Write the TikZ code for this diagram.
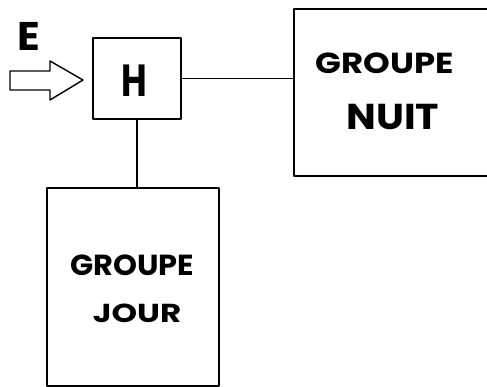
\documentclass[tikz,border=0pt]{standalone}
\usepackage{fontspec}
\newfontfamily\handfont{Poppins}[UprightFont=* Bold]
% hand-lettered look: wide, heavy capitals
\newcommand\handtext[3]{\scalebox{#2}[1]{\fontsize{#1}{#1}\selectfont #3}}
\begin{document}
\begin{tikzpicture}[x=1pt,y=-1pt,
  line width=1.5pt, line join=round,
  box/.style={draw=black, line width=1.7pt, inner sep=0pt},
  lettering/.style={font=\handfont, inner sep=0pt, text=black}]
\useasboundingbox (0,0) rectangle (487,387);
\clip (0,0) rectangle (487,387);

% blocks
\node[box, minimum width=88pt, minimum height=81pt] (h) at (137,78.5) {};
\node[lettering] (hl) at (134,81) {\handtext{45}{0.78}{H}};

\node[box, minimum width=200pt, minimum height=167pt, anchor=north west] (nuit) at (293,8) {};
\node[lettering] (n1) at (385,63) {\handtext{29}{1.17}{GROUPE}};
\node[lettering] (n2) at (393,117) {\handtext{36}{1.1}{NUIT}};

\node[box, minimum width=172pt, minimum height=198pt, anchor=north west] (jour) at (46,187) {};
\node[lettering] (j1) at (132,265) {\handtext{29}{1.05}{GROUPE}};
\node[lettering] (j2) at (137,313) {\handtext{26}{1.25}{JOUR}};

% input E
\node[lettering] (e) at (29,36) {\handtext{40}{1.05}{E}};
\coordinate (tip) at (83,80);
\draw[line width=1.4pt] (10,71) -- (50,71) -- (50,61) -- (tip) -- (50,100) -- (50,90) -- (10,90) -- cycle;

% connections
\draw (h.east) -- (h.east -| nuit.west);
\draw (h.south) -- (h.south |- jour.north);
\end{tikzpicture}
\end{document}
